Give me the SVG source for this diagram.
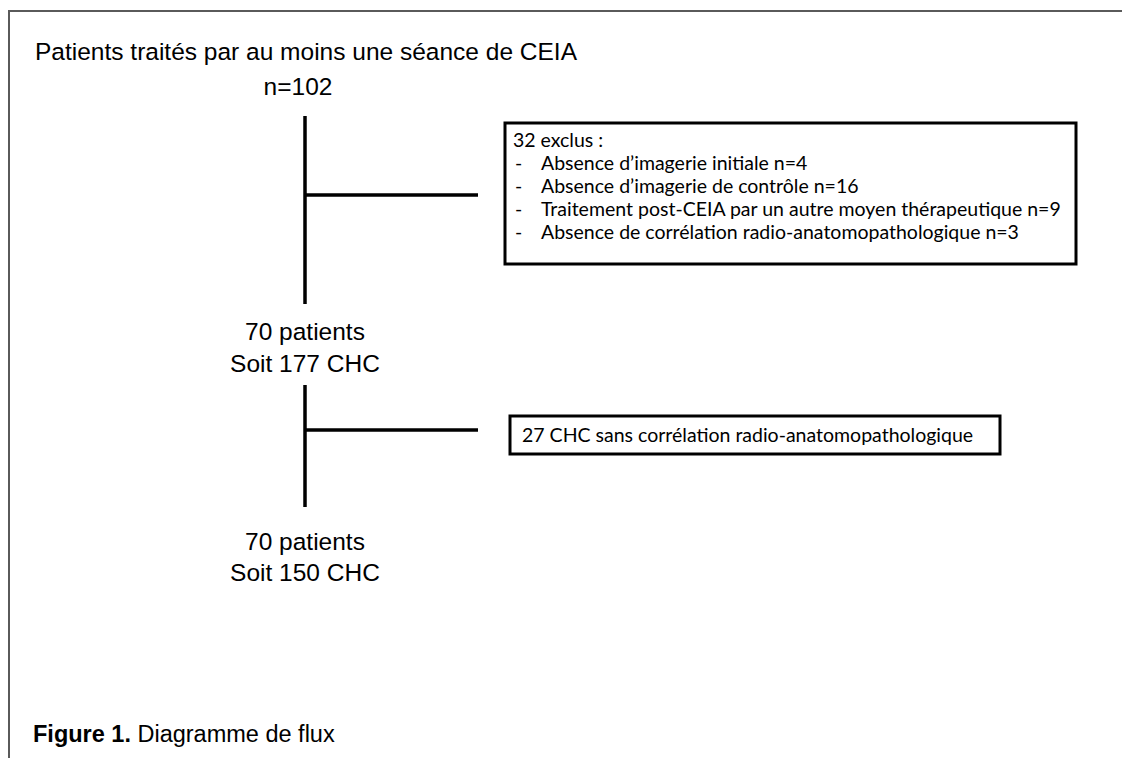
<svg xmlns="http://www.w3.org/2000/svg" width="1122" height="758" viewBox="0 0 1122 758">
<style>
.frame{stroke:#5a5a5a;stroke-width:2;fill:none}
.ln{stroke:#000;stroke-width:3.5;fill:none}
.box{stroke:#000;stroke-width:3;fill:#fff}
.main{font-family:"Liberation Sans",Arial,sans-serif;font-size:24.5px;fill:#000}
.bx{font-family:Lato,"Open Sans",sans-serif;font-size:19.5px;fill:#000}
.cap{font-family:"Liberation Sans",Arial,sans-serif;font-size:23.5px;fill:#000}
</style>
<rect width="1122" height="758" fill="#fff"/>
<g id="frame">
<path class="frame" d="M9 758 V11 H1122"/>
</g>
<g id="connectors">
<path class="ln" d="M305 116 V304 M305 195 H478"/>
<path class="ln" d="M305 385 V507 M305 430 H478"/>
</g>
<g id="n-start">
<text class="main" x="306" y="60" text-anchor="middle" textLength="542" lengthAdjust="spacingAndGlyphs">Patients traités par au moins une séance de CEIA</text>
<text class="main" x="298" y="95" text-anchor="middle">n=102</text>
</g>
<g id="n-excl1">
<rect class="box" x="505" y="123" width="571" height="141"/>
<text class="bx" x="513" y="147">32 exclus :</text>
<text class="bx" x="515" y="170">-</text>
<text class="bx" x="541" y="170">Absence d’imagerie initiale n=4</text>
<text class="bx" x="515" y="193">-</text>
<text class="bx" x="541" y="193">Absence d’imagerie de contrôle n=16</text>
<text class="bx" x="515" y="216">-</text>
<text class="bx" x="541" y="216">Traitement post-CEIA par un autre moyen thérapeutique n=9</text>
<text class="bx" x="515" y="239">-</text>
<text class="bx" x="541" y="239">Absence de corrélation radio-anatomopathologique n=3</text>
</g>
<g id="n-mid">
<text class="main" x="305" y="340" text-anchor="middle">70 patients</text>
<text class="main" x="305" y="372" text-anchor="middle">Soit 177 CHC</text>
</g>
<g id="n-excl2">
<rect class="box" x="510" y="416" width="490" height="38"/>
<text class="bx" x="522" y="442">27 CHC sans corrélation radio-anatomopathologique</text>
</g>
<g id="n-end">
<text class="main" x="305" y="550" text-anchor="middle">70 patients</text>
<text class="main" x="305" y="581" text-anchor="middle">Soit 150 CHC</text>
</g>
<g id="caption">
<text class="cap" x="33" y="742"><tspan font-weight="bold">Figure 1.</tspan> Diagramme de flux</text>
</g>
</svg>
